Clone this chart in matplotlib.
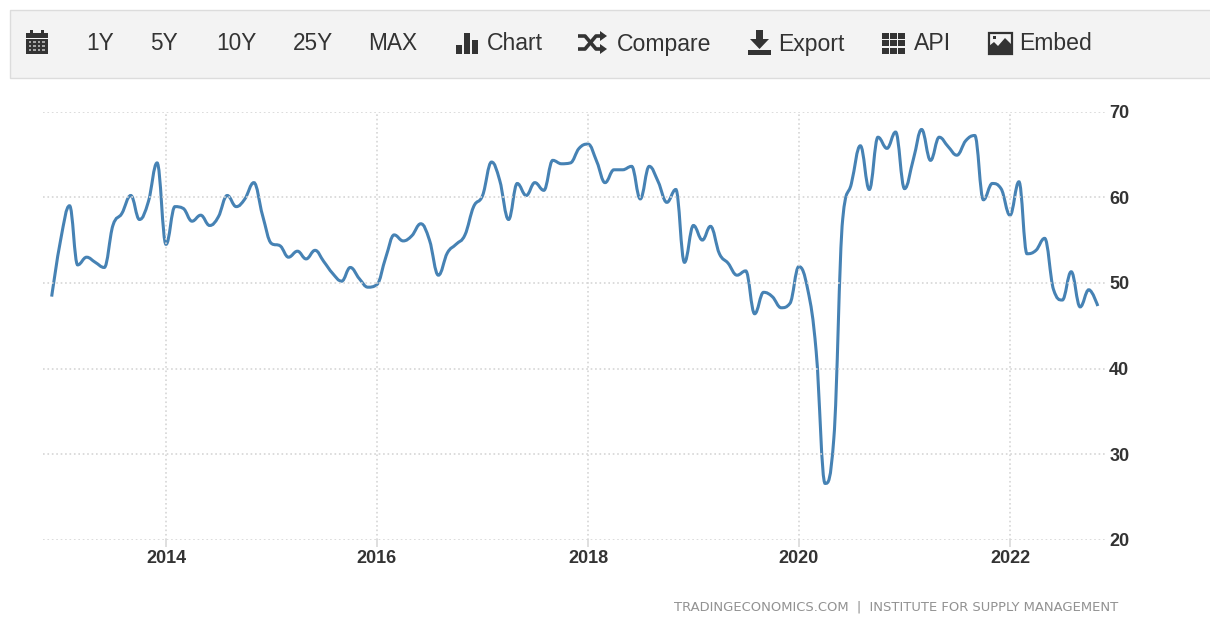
#!/usr/bin/env python3
# redraw of the tradingeconomics chart with its toolbar
import pandas as pd
import matplotlib
matplotlib.use("Agg")
import matplotlib.dates as mdates
import matplotlib.pyplot as plt
from matplotlib.path import Path
from matplotlib.patches import PathPatch, Rectangle, Polygon

# monthly values, Dec 2012 to Nov 2022
first_month = "2012-12-01"
values = [
    48.4, 55.0, 59.0, 52.1, 53.0, 52.4, 51.8, 56.7, 58.1, 60.2, 57.4, 59.5,
    64.0, 54.5, 58.9, 58.7, 57.2, 57.9, 56.7, 57.7, 60.2, 58.9, 59.8, 61.7,
    57.9, 54.6, 54.3, 53.0, 53.7, 52.8, 53.8, 52.5, 51.1, 50.2, 51.8, 50.5,
    49.5, 49.8, 53.0, 55.6, 54.9, 55.5, 56.9, 55.0, 50.9, 53.5, 54.5, 55.6,
    58.9, 60.2, 64.1, 62.0, 57.4, 61.6, 60.2, 61.7, 60.8, 64.3, 63.9, 64.0,
    65.7, 66.2, 64.1, 61.7, 63.2, 63.2, 63.6, 59.8, 63.6, 61.8, 59.4, 60.9,
    52.4, 56.7, 55.0, 56.6, 53.4, 52.3, 50.9, 51.4, 46.4, 48.9, 48.4, 47.1,
    47.6, 51.9, 49.2, 42.0, 26.6, 31.8, 57.5, 61.6, 66.0, 60.9, 67.0, 65.7,
    67.6, 61.0, 64.5, 67.9, 64.3, 67.0, 65.9, 64.9, 66.6, 67.2, 59.7, 61.6,
    61.0, 57.9, 61.8, 53.4, 53.8, 55.2, 49.2, 48.0, 51.3, 47.2, 49.2, 47.3,
]
y_ticks = [20, 30, 40, 50, 60, 70]
x_tick_years = [2014, 2016, 2018, 2020, 2022]
range_labels = ["1Y", "5Y", "10Y", "25Y", "MAX"]
range_x = [100, 164, 236, 313, 393]
tool_labels = ["Chart", "Compare", "Export", "API", "Embed"]
tool_x = [487, 617, 778, 914, 1019]
footer = "TRADINGECONOMICS.COM  |  INSTITUTE FOR SUPPLY MANAGEMENT"

W, H = 1210, 626
LINE = "#4682b4"
GRID = "#d6d6d6"
DARK = "#333333"


def spline_path(xs, ys, smoothing=1.5):
    '''given the points, returns a bezier path through them, same smoothing as a highcharts spline'''
    n = len(xs)
    denom = smoothing + 1
    left = [(xs[0], ys[0])] * n
    right = [(xs[-1], ys[-1])] * n
    for i in range(1, n - 1):
        lx = (smoothing * xs[i] + xs[i - 1]) / denom
        ly = (smoothing * ys[i] + ys[i - 1]) / denom
        rx = (smoothing * xs[i] + xs[i + 1]) / denom
        ry = (smoothing * ys[i] + ys[i + 1]) / denom
        # shift both so the tangent goes through the point
        corr = (ry - ly) * (rx - xs[i]) / (rx - lx) + ys[i] - ry
        ly += corr
        ry += corr
        # no overshoot past the neighbours
        if ly > ys[i - 1] and ly > ys[i]:
            ly = max(ys[i - 1], ys[i])
            ry = 2 * ys[i] - ly
        elif ly < ys[i - 1] and ly < ys[i]:
            ly = min(ys[i - 1], ys[i])
            ry = 2 * ys[i] - ly
        if ry > ys[i + 1] and ry > ys[i]:
            ry = max(ys[i + 1], ys[i])
            ly = 2 * ys[i] - ry
        elif ry < ys[i + 1] and ry < ys[i]:
            ry = min(ys[i + 1], ys[i])
            ly = 2 * ys[i] - ry
        left[i] = (lx, ly)
        right[i] = (rx, ry)
    right[0] = (xs[0], ys[0])
    left[-1] = (xs[-1], ys[-1])
    verts = [(xs[0], ys[0])]
    codes = [Path.MOVETO]
    for i in range(1, n):
        verts += [right[i - 1], left[i], (xs[i], ys[i])]
        codes += [Path.CURVE4, Path.CURVE4, Path.CURVE4]
    return Path(verts, codes)


def draw_toolbar(ov):
    '''the grey bar on top, labels and little icons, in pixel coordinates'''
    ov.add_patch(Rectangle((9.5, 9.5), W, 68.5, fc="#f3f3f3", ec="#dcdcdc", lw=1))
    for x, s in zip(range_x, range_labels):
        ov.text(x, 44, s, ha="center", va="center", fontsize=16.3, color=DARK)
    for x, s in zip(tool_x, tool_labels):
        ov.text(x, 44, s, ha="left", va="center", fontsize=16.6, color=DARK)

    # calendar
    ov.add_patch(Rectangle((26, 33), 22, 21, fc=DARK, ec="none"))
    ov.add_patch(Rectangle((30, 30), 3, 4, fc=DARK, ec="none"))
    ov.add_patch(Rectangle((41, 30), 3, 4, fc=DARK, ec="none"))
    ov.add_patch(Rectangle((26, 37.5), 22, 1.2, fc="#f3f3f3", ec="none"))
    for i in range(4):
        for j in range(3):
            ov.add_patch(Rectangle((28.5 + i * 4.5, 41 + j * 4), 2.5, 2.2, fc="#a5a5a5", ec="none"))

    # bars
    ov.add_patch(Rectangle((456, 45), 6, 9, fc=DARK, ec="none"))
    ov.add_patch(Rectangle((464, 33), 6, 21, fc=DARK, ec="none"))
    ov.add_patch(Rectangle((472, 40), 6, 14, fc=DARK, ec="none"))

    # shuffle arrows
    ov.plot([578, 585, 596, 602], [36, 36, 49, 49], color=DARK, lw=2.6, solid_capstyle="butt")
    ov.plot([578, 585, 596, 602], [49, 49, 36, 36], color=DARK, lw=2.6, solid_capstyle="butt")
    ov.add_patch(Polygon([(600, 31), (607, 36), (600, 41)], fc=DARK, ec="none"))
    ov.add_patch(Polygon([(600, 44), (607, 49), (600, 54)], fc=DARK, ec="none"))

    # export
    ov.add_patch(Polygon([(756, 30), (763, 30), (763, 39), (769, 39), (759.5, 49), (750, 39), (756, 39)],
                         fc=DARK, ec="none"))
    ov.add_patch(Rectangle((748, 50), 23, 4.5, fc=DARK, ec="none"))

    # api squares
    for i in range(3):
        for j in range(3):
            ov.add_patch(Rectangle((882 + i * 8.2, 32.5 + j * 7.6), 6.6, 6.2, fc=DARK, ec="none"))

    # embed picture
    ov.add_patch(Rectangle((988.5, 33), 23, 21, fc="#f3f3f3", ec=DARK, lw=1.6))
    ov.add_patch(Polygon([(989, 53), (989, 46), (994, 42), (998, 46), (1005, 38), (1011, 44), (1011, 53)],
                         fc=DARK, ec="none"))
    ov.add_patch(Rectangle((993, 36), 3, 3, fc=DARK, ec="none"))


def main():
    plt.rcParams["font.family"] = ["Liberation Sans", "DejaVu Sans"]
    fig = plt.figure(figsize=(W / 100, H / 100), dpi=100, facecolor="white")
    ax = fig.add_axes([43 / W, 1 - 540 / H, (1105 - 43) / W, (540 - 111.5) / H])

    dates = pd.date_range(first_month, periods=len(values), freq="MS")
    xs = mdates.date2num(dates)
    ax.add_patch(PathPatch(spline_path(list(xs), values), fc="none", ec=LINE, lw=2.2, capstyle="butt"))

    ax.set_xlim(pd.Timestamp("2012-11-01"), pd.Timestamp("2022-11-26"))
    ax.set_ylim(20, 70)
    ax.set_xticks([pd.Timestamp(f"{y}-01-01") for y in x_tick_years])
    ax.set_xticklabels([str(y) for y in x_tick_years])
    ax.set_yticks(y_ticks)
    ax.yaxis.tick_right()
    ax.grid(True, color=GRID, linestyle=":", linewidth=1.2)
    ax.tick_params(axis="y", length=0, pad=3, labelsize=13, labelcolor=DARK)
    ax.tick_params(axis="x", length=5, width=1.1, color=GRID, pad=2.5, labelsize=13, labelcolor=DARK)
    for t in ax.xaxis.get_ticklines():
        t.set_linestyle(":")
    for lab in ax.get_xticklabels() + ax.get_yticklabels():
        lab.set_fontweight("bold")
    for s in ax.spines.values():
        s.set_visible(False)

    ov = fig.add_axes([0, 0, 1, 1])
    ov.set_xlim(0, W)
    ov.set_ylim(H, 0)
    ov.axis("off")
    ov.patch.set_alpha(0)
    draw_toolbar(ov)
    ov.text(1118, 607, footer, ha="right", va="center", fontsize=9.45, color="#929292", family="DejaVu Sans")

    fig.savefig("out.png", dpi=100)


if __name__ == "__main__":
    main()
